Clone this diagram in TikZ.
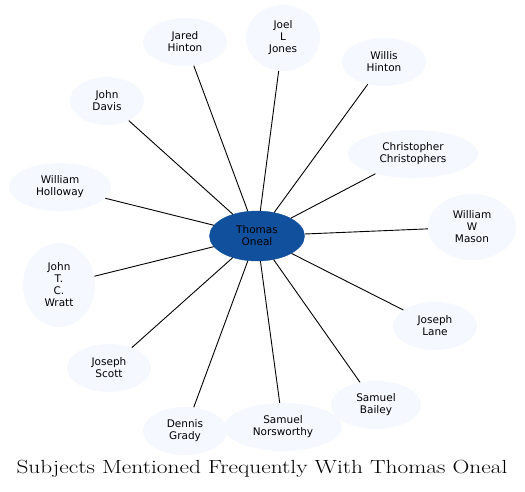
\documentclass[tikz,border=0pt]{standalone}
\usepackage{fontspec}
\setsansfont{DejaVu Sans}
\usepackage{tikz}
\usetikzlibrary{shapes.geometric}
\definecolor{hubblue}{RGB}{16,80,156}
\definecolor{subjfill}{RGB}{245,248,255}
\tikzset{>=latex}

\begin{document}
\begin{tikzpicture}[x = 1pt, y = -1pt,
  subj/.style = {ellipse, fill = subjfill, inner sep = 0pt, align = center, font = \sffamily\fontsize{10.5}{12}\selectfont},
  hub/.style = {subj, fill = hubblue, draw = hubblue},
  link/.style = {line width = 0.9pt, black}]
\useasboundingbox (0,0) rectangle (525,492);
\node[hub, minimum width = 95pt, minimum height = 50pt] (thomas) at (257,236) {Thomas\\Oneal};
\node[subj, minimum width = 84pt, minimum height = 48pt] (jared) at (185,42) {Jared\\Hinton};
\node[subj, minimum width = 74pt, minimum height = 66pt] (joel) at (283,38) {Joel\\L\\Jones};
\node[subj, minimum width = 84pt, minimum height = 48pt] (willis) at (384,62) {Willis\\Hinton};
\node[subj, minimum width = 74pt, minimum height = 48pt] (davis) at (107,101) {John\\Davis};
\node[subj, minimum width = 130pt, minimum height = 48pt] (chris) at (413,154) {Christopher\\Christophers};
\node[subj, minimum width = 102pt, minimum height = 48pt] (holloway) at (60,187) {William\\Holloway};
\node[subj, minimum width = 88pt, minimum height = 66pt] (mason) at (472,227) {William\\W\\Mason};
\node[subj, minimum width = 72pt, minimum height = 84pt] (wratt) at (59,285) {John\\T.\\C.\\Wratt};
\node[subj, minimum width = 84pt, minimum height = 48pt] (lane) at (435,326) {Joseph\\Lane};
\node[subj, minimum width = 84pt, minimum height = 48pt] (scott) at (109,368) {Joseph\\Scott};
\node[subj, minimum width = 90pt, minimum height = 48pt] (bailey) at (376,405) {Samuel\\Bailey};
\node[subj, minimum width = 84pt, minimum height = 48pt] (grady) at (185,431) {Dennis\\Grady};
\node[subj, minimum width = 118pt, minimum height = 48pt] (norsworthy) at (283,427) {Samuel\\Norsworthy};
% edges from the hub
\draw[link] (thomas) -- (jared);
\draw[link] (thomas) -- (joel);
\draw[link] (thomas) -- (willis);
\draw[link] (thomas) -- (davis);
\draw[link] (thomas) -- (chris);
\draw[link] (thomas) -- (holloway);
\draw[link] (thomas) -- (mason);
\draw[link] (thomas) -- (wratt);
\draw[link] (thomas) -- (lane);
\draw[link] (thomas) -- (scott);
\draw[link] (thomas) -- (bailey);
\draw[link] (thomas) -- (grady);
\draw[link] (thomas) -- (norsworthy);
\node[font = \fontsize{19}{22}\selectfont] (title) at (262,469) {\scalebox{1.23}[1]{Subjects Mentioned Frequently With Thomas Oneal}};
\end{tikzpicture}
\end{document}
